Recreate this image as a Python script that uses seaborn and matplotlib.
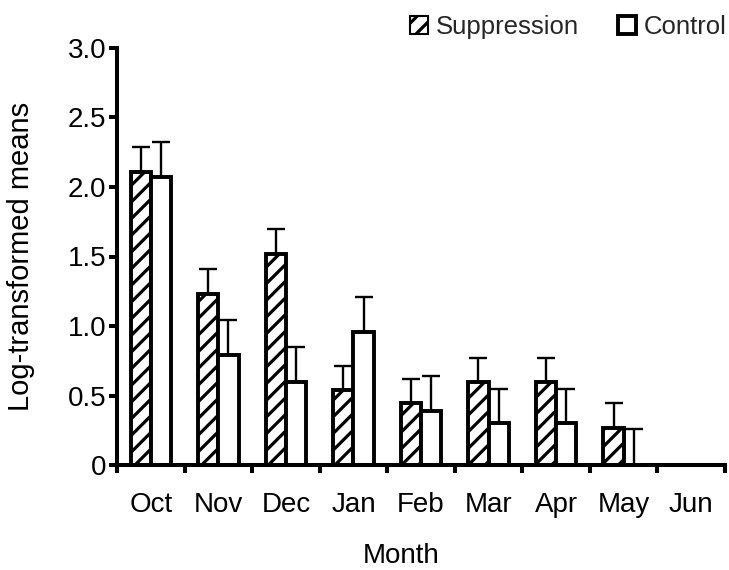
import numpy as np
import pandas as pd
import matplotlib
matplotlib.use("Agg")
import matplotlib.pyplot as plt
import seaborn as sns
from matplotlib.patches import Patch

months = ["Oct", "Nov", "Dec", "Jan", "Feb", "Mar", "Apr", "May", "Jun"]
groups = ["Suppression", "Control"]
supp_mean = [2.11, 1.23, 1.52, 0.54, 0.45, 0.60, 0.60, 0.27, 0.0]
supp_err = [0.18, 0.18, 0.18, 0.17, 0.17, 0.17, 0.17, 0.18, 0.0]
ctrl_mean = [2.07, 0.79, 0.60, 0.96, 0.39, 0.30, 0.30, 0.0, 0.0]
ctrl_err = [0.25, 0.25, 0.25, 0.25, 0.25, 0.25, 0.25, 0.26, 0.0]
yticks = [0, 0.5, 1.0, 1.5, 2.0, 2.5, 3.0]
ytick_labels = ["0", "0.5", "1.0", "1.5", "2.0", "2.5", "3.0"]

df = pd.DataFrame({
    "Month": months * 2,
    "Group": [groups[0]] * len(months) + [groups[1]] * len(months),
    "Mean": supp_mean + ctrl_mean,
    "Err": supp_err + ctrl_err,
})

sns.set_theme(style="white")
plt.rcParams["font.family"] = ["Liberation Sans", "DejaVu Sans"]
plt.rcParams["hatch.linewidth"] = 2.3

fig = plt.figure(figsize=(7.29, 5.70), dpi=100)
ax = fig.add_axes([0.1605, 0.184, 0.834, 0.732])

sns.barplot(data=df, x="Month", y="Mean", hue="Group", order=months,
            hue_order=groups, palette=["white", "white"], width=0.6, gap=0,
            edgecolor="black", linewidth=2.8, legend=False, errorbar=None, ax=ax)

errs = {groups[0]: supp_err, groups[1]: ctrl_err}
bar_containers = list(ax.containers)
for gi, cont in enumerate(bar_containers):
    xs, hs, es = [], [], []
    for bar, e in zip(cont.patches, errs[groups[gi]]):
        if gi == 0:
            bar.set_hatch("//")
        if e > 0:
            xs.append(bar.get_x() + bar.get_width() / 2)
            hs.append(bar.get_height())
            es.append(e)
    ax.errorbar(xs, hs, yerr=[np.zeros(len(es)), es], fmt="none",
                ecolor="black", elinewidth=1.7, capsize=6.5, capthick=1.7,
                zorder=1)

ax.set_xlim(-0.5, len(months) - 0.5)
ax.set_ylim(0, 3.0)
ax.set_yticks(yticks)
ax.set_yticklabels(ytick_labels)
ax.set_xticks(range(len(months)))
ax.set_xticklabels(months)
ax.set_xticks(np.arange(-0.5, len(months), 1.0), minor=True)

for s in ["top", "right"]:
    ax.spines[s].set_visible(False)
for s in ["left", "bottom"]:
    ax.spines[s].set_linewidth(2.9)
    ax.spines[s].set_color("black")

ax.tick_params(axis="y", which="major", direction="out", length=5.5, width=2.9,
               left=True, labelsize=20, pad=2, colors="black")
ax.tick_params(axis="x", which="major", length=0, labelsize=20, pad=19,
               colors="black")
ax.tick_params(axis="x", which="minor", direction="out", length=5.5, width=2.9,
               bottom=True, colors="black")

ax.set_xlabel("Month", fontsize=20, color="black")
ax.xaxis.set_label_coords(0.467, -0.187)
ax.set_ylabel("Log-transformed means", fontsize=21, color="black")
ax.yaxis.set_label_coords(-0.135, 0.5)

handles = [Patch(facecolor="white", edgecolor="black", hatch="//", linewidth=1.5),
           Patch(facecolor="white", edgecolor="black", linewidth=2.8)]
fig.legend(handles, groups, loc="upper right", bbox_to_anchor=(1.028, 1.015),
           ncol=2, frameon=False, fontsize=18.5, handlelength=0.7,
           handleheight=0.7, handletextpad=0.3, columnspacing=1.5)

fig.savefig("out.png", dpi=100, facecolor="white")
